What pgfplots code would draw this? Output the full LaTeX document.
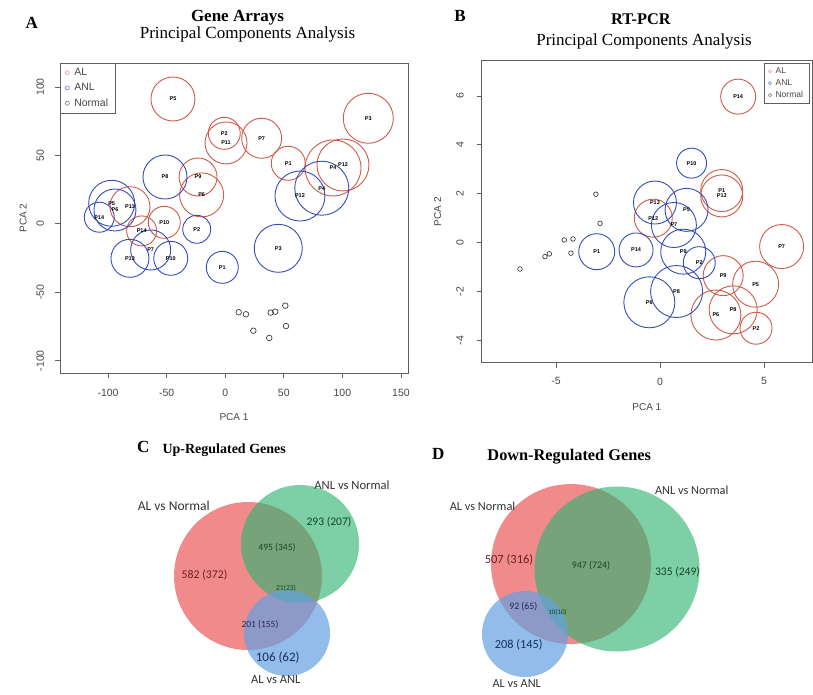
\documentclass[border=0pt]{standalone}
\usepackage{pgfplots}
\pgfplotsset{compat=1.18}
\usepackage{fontspec}
\setmainfont{Liberation Sans}
\newfontfamily\tnr{Liberation Serif}
\newfontfamily\calfont{Carlito}

\definecolor{alred}{RGB}{208,90,72}
\definecolor{anlblue}{RGB}{52,76,185}
\definecolor{normgray}{RGB}{60,60,60}
\definecolor{axgray}{RGB}{95,95,95}
\definecolor{txtgray}{RGB}{70,70,70}
\definecolor{vred}{RGB}{236,100,100}
\definecolor{vgreen}{RGB}{45,178,112}
\definecolor{vblue}{RGB}{100,160,225}
\definecolor{nred}{RGB}{110,30,30}
\definecolor{ngreen}{RGB}{18,70,40}
\definecolor{npurple}{RGB}{45,35,85}
\definecolor{nblue}{RGB}{25,45,95}

% one patient circle: x, y, radius (pt), colour
\newcommand{\pc}[4]{\addplot[only marks, mark=o, mark size=#3pt, color=#4, line width=0.9pt, forget plot] coordinates {(#1,#2)};}

\pgfplotsset{
  pca/.style={scale only axis,
    axis line style={axgray, line width=0.7pt},
    tick style={axgray, line width=0.7pt},
    tick align=outside, major tick length=5pt,
    xtick pos=bottom, ytick pos=left,
    ticklabel style={font=\fontsize{10.5}{12}\selectfont, text=txtgray},
    yticklabel style={rotate=90, anchor=south},
    /pgf/number format/assume math mode=true,
    label style={font=\fontsize{10}{12}\selectfont, text=txtgray},
    legend cell align=left},
  labs/.style={draw=none, mark=none, forget plot, point meta=explicit symbolic,
    nodes near coords,
    every node near coord/.style={anchor=center, inner sep=0pt, text=black,
      font=\fontsize{5.5}{6}\selectfont\bfseries}},
  venn/.style n args={3}{only marks, mark=*, mark size=#1pt,
    mark options={draw opacity=0, fill=#2, fill opacity=#3}},
  overlay/.style={at={(0pt,0pt)}, anchor=south west, scale only axis,
    width=813pt, height=694pt, xmin=0, xmax=813, ymin=0, ymax=694,
    y dir=reverse, hide axis, clip=false},
}

\begin{document}
\begin{tikzpicture}
\useasboundingbox (0,0) rectangle (813pt,694pt);

% ---------------- Venn diagrams (circles) ----------------
\begin{axis}[overlay]
% C
\addplot[venn={74}{vred}{0.75}] coordinates {(248,576)};
\addplot[venn={59}{vgreen}{0.62}] coordinates {(300,544)};
\addplot[venn={43}{vblue}{0.7}] coordinates {(287,633)};
% D
\addplot[venn={80}{vred}{0.75}] coordinates {(571,564)};
\addplot[venn={82.5}{vgreen}{0.62}] coordinates {(617,569)};
\addplot[venn={43}{vblue}{0.7}] coordinates {(525,634)};
\end{axis}

% ---------------- titles and Venn texts ----------------
\begin{axis}[overlay]
\node[anchor=base, font=\tnr\bfseries\fontsize{17}{20}\selectfont] at (axis cs:31.7,28.8) {A};
\node[anchor=base, font=\tnr\bfseries\fontsize{17}{20}\selectfont] at (axis cs:237.5,21) {Gene Arrays};
\node[anchor=base, font=\tnr\fontsize{17}{20}\selectfont] at (axis cs:247.5,38) {Principal Components Analysis};
\node[anchor=base, font=\tnr\bfseries\fontsize{17}{20}\selectfont] at (axis cs:460,21.5) {B};
\node[anchor=base, font=\tnr\bfseries\fontsize{16.3}{20}\selectfont] at (axis cs:640.8,24) {RT-PCR};
\node[anchor=base, font=\tnr\fontsize{17}{20}\selectfont] at (axis cs:644,45.5) {Principal Components Analysis};
\node[anchor=base, font=\tnr\bfseries\fontsize{17}{20}\selectfont] at (axis cs:143.3,452.3) {C};
\node[anchor=base, font=\tnr\bfseries\fontsize{14}{17}\selectfont] at (axis cs:224.2,453) {Up-Regulated Genes};
\node[anchor=base, font=\tnr\bfseries\fontsize{17}{20}\selectfont] at (axis cs:438.3,459) {D};
\node[anchor=base, font=\tnr\bfseries\fontsize{16.3}{20}\selectfont] at (axis cs:569.2,460.5) {Down-Regulated Genes};
% Venn C labels
\node[font=\calfont\fontsize{13.5}{15}\selectfont, text=black!80] at (axis cs:173.8,506) {AL vs Normal};
\node[font=\calfont\fontsize{12.6}{15}\selectfont, text=black!80] at (axis cs:352,485) {ANL vs Normal};
\node[font=\calfont\fontsize{12.5}{15}\selectfont, text=black!80] at (axis cs:275.8,680) {AL vs ANL};
\node[font=\calfont\fontsize{11.8}{14}\selectfont, text=nred] at (axis cs:204.5,575) {582 (372)};
\node[font=\calfont\fontsize{11.6}{14}\selectfont, text=ngreen] at (axis cs:329,521.7) {293 (207)};
\node[font=\calfont\fontsize{9.6}{12}\selectfont, text=ngreen] at (axis cs:277,547.3) {495 (345)};
\node[font=\calfont\fontsize{7.5}{9}\selectfont, text=ngreen] at (axis cs:286,588.3) {21(23)};
\node[font=\calfont\fontsize{9.5}{12}\selectfont, text=npurple] at (axis cs:260,625) {201 (155)};
\node[font=\calfont\fontsize{13}{15}\selectfont, text=nblue] at (axis cs:277.7,657.3) {106 (62)};
% Venn D labels
\node[font=\calfont\fontsize{12.3}{15}\selectfont, text=black!80] at (axis cs:482.5,506) {AL vs Normal};
\node[font=\calfont\fontsize{12.3}{15}\selectfont, text=black!80] at (axis cs:691.7,490) {ANL vs Normal};
\node[font=\calfont\fontsize{12.3}{15}\selectfont, text=black!80] at (axis cs:516.7,683.3) {AL vs ANL};
\node[font=\calfont\fontsize{12.5}{14}\selectfont, text=nred] at (axis cs:509,559.3) {507 (316)};
\node[font=\calfont\fontsize{9.9}{12}\selectfont, text=ngreen] at (axis cs:591,565.7) {947 (724)};
\node[font=\calfont\fontsize{11.6}{14}\selectfont, text=ngreen] at (axis cs:677.5,571.7) {335 (249)};
\node[font=\calfont\fontsize{9.8}{12}\selectfont, text=npurple] at (axis cs:523.3,606.7) {92 (65)};
\node[font=\calfont\fontsize{7}{9}\selectfont, text=ngreen] at (axis cs:557.5,612.3) {10(10)};
\node[font=\calfont\fontsize{12.3}{14}\selectfont, text=nblue] at (axis cs:518.8,645) {208 (145)};
\end{axis}

% ---------------- Panel A ----------------
\begin{axis}[pca, at={(60pt,321pt)}, anchor=south west,
  width=348pt, height=310pt,
  xmin=-141, xmax=156, ymin=-109, ymax=117.5,
  xtick={-100,-50,0,50,100,150}, ytick={-100,-50,0,50,100},
  xticklabel shift=7.5pt, yticklabel shift=7.5pt,
  xlabel={PCA 1}, ylabel={PCA 2},
  xlabel style={at={(axis description cs:0.5,-0.142)}, anchor=center},
  ylabel style={at={(axis description cs:-0.106,0.5)}, anchor=center},
  legend style={at={(0,1)}, anchor=north west, draw=axgray, line width=0.6pt,
    font=\fontsize{10.5}{11}\selectfont, text=txtgray, inner xsep=5pt, inner ysep=3pt,
    row sep=2.5pt, column sep=3pt}]
\addlegendimage{only marks, mark=o, mark size=2pt, alred!60, line width=0.6pt}
\addlegendentry{AL}
\addlegendimage{only marks, mark=o, mark size=2pt, anlblue!70, line width=0.6pt}
\addlegendentry{ANL}
\addlegendimage{only marks, mark=o, mark size=2pt, normgray!70, line width=0.6pt}
\addlegendentry{Normal}
% AL (red)
\pc{-44.6}{91.2}{22}{alred}
\pc{-0.8}{66.1}{16}{alred}
\pc{0.7}{59.1}{21}{alred}
\pc{31.1}{62.5}{20}{alred}
\pc{122.1}{77.1}{25}{alred}
\pc{53.8}{44.2}{17}{alred}
\pc{92.0}{40.8}{28}{alred}
\pc{100.5}{43.0}{26}{alred}
\pc{-23.2}{34.2}{19}{alred}
\pc{-20.1}{21.1}{22}{alred}
\pc{-81.3}{12.5}{20}{alred}
\pc{-52.0}{1.1}{16}{alred}
\pc{-71.3}{-5.2}{15}{alred}
% ANL (blue)
\pc{-51.4}{34.2}{22}{anlblue}
\pc{82.4}{26.0}{27}{anlblue}
\pc{63.8}{20.3}{25}{anlblue}
\pc{-107.5}{4.8}{15}{anlblue}
\pc{-96.9}{15.0}{23}{anlblue}
\pc{-94.1}{10.1}{21}{anlblue}
\pc{-24.3}{-4.0}{14}{anlblue}
\pc{-63.6}{-19.1}{20}{anlblue}
\pc{-81.3}{-25.2}{19}{anlblue}
\pc{-46.5}{-25.2}{17}{anlblue}
\pc{-2.5}{-31.8}{16}{anlblue}
\pc{45.3}{-17.9}{24}{anlblue}
% labels
\addplot[labs] table[meta=lab] {
x y lab
-44.6 91.2 P5
-0.8 66.1 P2
0.7 59.1 P11
31.1 62.5 P7
122.1 77.1 P3
53.8 44.2 P1
92.0 40.8 P4
100.5 43.0 P12
-23.2 34.2 P9
-20.1 21.1 P6
-81.3 12.5 P11
-52.0 1.1 P10
-71.3 -5.2 P14
-51.4 34.2 P8
82.4 26.0 P4
63.8 20.3 P12
-107.5 4.8 P14
-96.9 15.0 P5
-94.1 10.1 P6
-24.3 -4.0 P2
-63.6 -19.1 P7
-81.3 -25.2 P13
-46.5 -25.2 P10
-2.5 -31.8 P1
45.3 -17.9 P3
};
\addplot[only marks, mark=o, mark size=2.8pt, normgray, line width=0.7pt, forget plot] coordinates {
(11.5,-64.6) (17.7,-66.1) (38.8,-64.9) (42.7,-64.2) (51.3,-59.8) (24.0,-78.1) (51.9,-74.7) (37.6,-83.4)};
\end{axis}

% ---------------- Panel B ----------------
\begin{axis}[pca, at={(481.7pt,331.3pt)}, anchor=south west,
  width=330.3pt, height=302pt,
  xmin=-8.57, xmax=7.31, ymin=-4.91, ymax=7.44,
  xtick={-5,0,5}, ytick={-4,-2,0,2,4,6},
  xticklabel shift=6.5pt, yticklabel shift=9.5pt,
  xlabel={PCA 1}, ylabel={PCA 2},
  xlabel style={at={(axis description cs:0.5,-0.146)}, anchor=center},
  ylabel style={at={(axis description cs:-0.133,0.5)}, anchor=center},
  legend style={at={(axis description cs:0.855,0.993)}, anchor=north west, draw=axgray, line width=0.6pt,
    font=\fontsize{8.5}{9}\selectfont, text=txtgray, inner xsep=4pt, inner ysep=2.5pt,
    row sep=0.5pt, column sep=2pt}]
\addlegendimage{only marks, mark=o, mark size=1.6pt, alred!50, line width=0.6pt}
\addlegendentry{AL}
\addlegendimage{only marks, mark=o, mark size=1.6pt, anlblue!70, line width=0.6pt}
\addlegendentry{ANL}
\addlegendimage{only marks, mark=o, mark size=1.6pt, normgray!70, line width=0.6pt}
\addlegendentry{Normal}
% AL (red)
\pc{3.76}{5.97}{17.5}{alred}
\pc{2.97}{2.13}{21}{alred}
\pc{2.97}{1.91}{21}{alred}
\pc{-0.32}{1.00}{19}{alred}
\pc{3.04}{-1.35}{20}{alred}
\pc{4.60}{-1.70}{23}{alred}
\pc{5.85}{-0.16}{22}{alred}
\pc{2.69}{-2.96}{25}{alred}
\pc{3.52}{-2.75}{24}{alred}
\pc{4.62}{-3.50}{16}{alred}
% ANL (blue)
\pc{1.52}{3.25}{15}{anlblue}
\pc{-0.24}{1.64}{21.5}{anlblue}
\pc{1.28}{1.34}{21.5}{anlblue}
\pc{0.67}{0.72}{22.5}{anlblue}
\pc{-3.04}{-0.37}{18}{anlblue}
\pc{-1.15}{-0.30}{17}{anlblue}
\pc{1.12}{-0.37}{22.5}{anlblue}
\pc{1.89}{-0.82}{16}{anlblue}
\pc{0.80}{-2.00}{26}{anlblue}
\pc{-0.51}{-2.44}{25.5}{anlblue}
% labels
\addplot[labs] table[meta=lab] {
x y lab
3.76 5.97 P14
2.97 2.13 P1
2.97 1.91 P13
-0.32 1.00 P12
3.04 -1.35 P9
4.60 -1.70 P5
5.85 -0.16 P7
2.69 -2.96 P6
3.52 -2.75 P8
4.62 -3.50 P2
1.52 3.25 P10
-0.24 1.64 P13
1.28 1.34 P5
0.67 0.72 P7
-3.04 -0.37 P1
-1.15 -0.30 P14
1.12 -0.37 P9
1.89 -0.82 P2
0.80 -2.00 P8
-0.51 -2.44 P6
};
\addplot[only marks, mark=o, mark size=2.3pt, normgray, line width=0.7pt, forget plot] coordinates {
(-3.08,1.98) (-2.88,0.79) (-4.60,0.11) (-4.18,0.15) (-4.28,-0.43) (-5.32,-0.46) (-5.53,-0.57) (-6.73,-1.08)};
\end{axis}
\end{tikzpicture}
\end{document}
